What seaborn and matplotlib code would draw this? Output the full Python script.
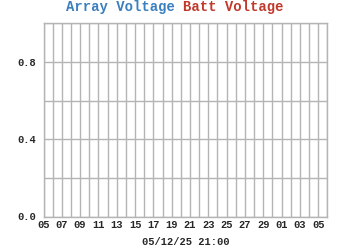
import matplotlib
matplotlib.use("Agg")
import matplotlib.pyplot as plt
import seaborn as sns
import pandas as pd
import numpy as np

# Data (chart is empty: no readings)
array_voltage = []
batt_voltage = []
times = []
day_labels = ["05", "07", "09", "11", "13", "15", "17", "19", "21", "23",
              "25", "27", "29", "01", "03", "05"]
y_labels = ["0.0", "0.4", "0.8"]
y_label_values = [0.0, 0.4, 0.8]
xlabel = "05/12/25 21:00"

sns.set_style("white")
plt.rcParams['font.family'] = ['Liberation Mono', 'DejaVu Sans Mono']

fig = plt.figure(figsize=(3.5, 2.5), dpi=100)
ax = fig.add_axes([43.5/350, 1-216.5/250, (327.3-43.5)/350, (216.5-23.3)/250])

df = pd.DataFrame({"t": pd.Series(times, dtype=float),
                   "array": pd.Series(array_voltage, dtype=float),
                   "batt": pd.Series(batt_voltage, dtype=float)})
sns.lineplot(data=df, x="t", y="array", color="#3a7fc0", ax=ax)
sns.lineplot(data=df, x="t", y="batt", color="#c0392b", ax=ax)

ax.set_xlim(0, 31)
ax.set_ylim(0, 1.0)
ax.set_xticks(np.arange(0, 31, 2))
ax.set_xticklabels(day_labels)
ax.set_xticks(np.arange(0, 32, 1), minor=True)
ax.set_yticks(y_label_values)
ax.set_yticklabels(y_labels)
ax.set_yticks([0.2, 0.6, 1.0], minor=True)

ax.grid(True, which="both", color="#b4b4b4", linewidth=1.0)
ax.tick_params(which="both", length=0)
ax.tick_params(axis="x", pad=2.5, labelsize=7.5)
ax.tick_params(axis="y", pad=5, labelsize=7.5)
for lbl in ax.get_xticklabels() + ax.get_yticklabels():
    lbl.set_fontweight("bold")
for s in ax.spines.values():
    s.set_color("#b4b4b4")
    s.set_linewidth(1.0)

ax.set_xlabel(xlabel, fontsize=7.5, fontweight="bold", labelpad=5)
ax.set_ylabel("")

fig.text(66/350, 1-7.5/250, "Array Voltage", color="#3a7fc0", fontsize=10,
         fontweight="bold", ha="left", va="center")
fig.text(183/350, 1-7.5/250, "Batt Voltage", color="#c0392b", fontsize=10,
         fontweight="bold", ha="left", va="center")

fig.savefig("out.png", dpi=100)
